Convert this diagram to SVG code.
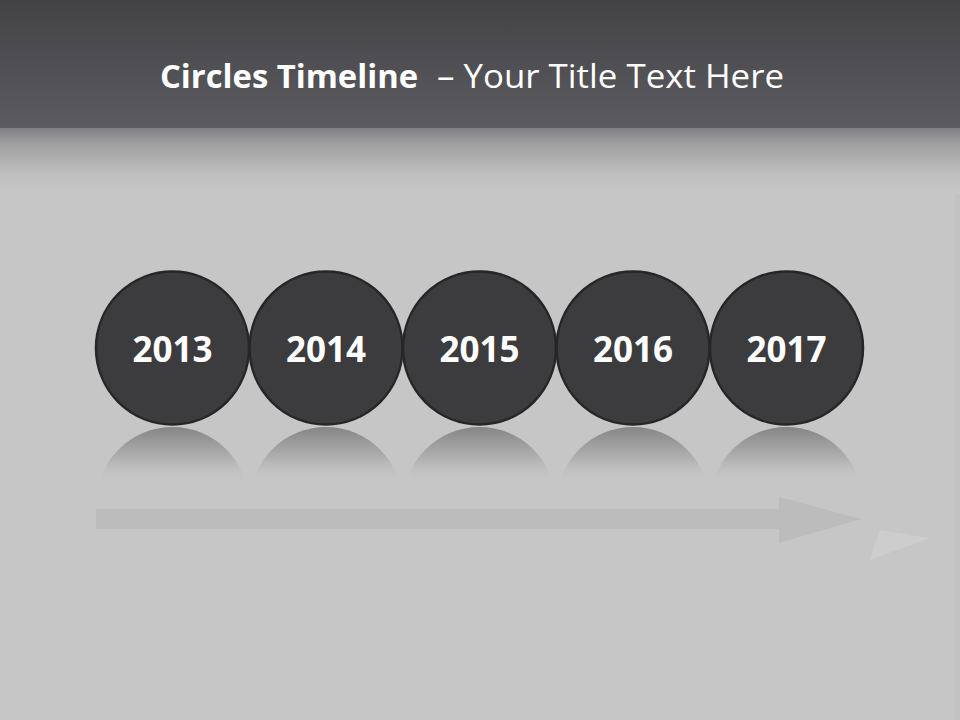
<svg xmlns="http://www.w3.org/2000/svg" width="960" height="720" viewBox="0 0 960 720">
  <defs>
    <linearGradient id="hdr" x1="0" y1="0" x2="0" y2="1">
      <stop offset="0" stop-color="#434245"/>
      <stop offset="1" stop-color="#5c5b60"/>
    </linearGradient>
    <linearGradient id="fade" x1="0" y1="0" x2="0" y2="1">
      <stop offset="0" stop-color="#807f82"/>
      <stop offset="0.25" stop-color="#a0a0a1"/>
      <stop offset="0.7" stop-color="#bfbfbf"/>
      <stop offset="1" stop-color="#c6c6c6"/>
    </linearGradient>
    <linearGradient id="refl" gradientUnits="userSpaceOnUse" x1="0" y1="427" x2="0" y2="482">
      <stop offset="0" stop-color="#858586" stop-opacity="1"/>
      <stop offset="0.55" stop-color="#aaaaaa" stop-opacity="0.85"/>
      <stop offset="1" stop-color="#c6c6c6" stop-opacity="0"/>
    </linearGradient>
    <clipPath id="reflClip">
      <rect x="0" y="426" width="960" height="58"/>
    </clipPath>
    <style>
      .node circle { fill: #3c3b3e; stroke: #262527; stroke-width: 2.5; }
      .node text { font-family: "Open Sans", "Liberation Sans", sans-serif; font-weight: 700; font-size: 35px; fill: #ffffff; text-anchor: middle; }
      .refl { fill: url(#refl); }
      .title { font-family: "Open Sans", "Liberation Sans", sans-serif; font-size: 32px; fill: #ffffff; }
    </style>
  </defs>

  <!-- background -->
  <rect x="0" y="0" width="960" height="720" fill="#c6c6c6"/>
  <polygon points="870,560 930,538 880,530" fill="#d0d0d0" opacity="0.7"/>
  <polygon points="0,160 35,152 0,190" fill="#d0d0d0" opacity="0.5"/>
  <rect x="0" y="128" width="960" height="66" fill="url(#fade)"/>
  <rect x="0" y="0" width="960" height="128" fill="url(#hdr)"/>
  <rect x="955" y="194" width="5" height="526" fill="#bdbdbd" opacity="0.5"/>

  <!-- title -->
  <text class="title" x="160" y="88"><tspan font-weight="700" textLength="258" lengthAdjust="spacingAndGlyphs">Circles Timeline</tspan><tspan x="437" textLength="347" lengthAdjust="spacingAndGlyphs">– Your Title Text Here</tspan></text>

  <!-- reflections -->
  <g id="reflections" clip-path="url(#reflClip)">
    <circle class="refl" cx="172.5" cy="503" r="76"/>
    <circle class="refl" cx="326" cy="503" r="76"/>
    <circle class="refl" cx="479.5" cy="503" r="76"/>
    <circle class="refl" cx="633" cy="503" r="76"/>
    <circle class="refl" cx="786.5" cy="503" r="76"/>
  </g>

  <!-- connectors -->
  <g id="connectors">
    <polygon points="96,509 779,509 779,497 861,519 779,543 779,529 96,529" fill="#bcbcbc"/>
  </g>

  <!-- nodes -->
  <g id="node-2013" class="node">
    <circle cx="172.5" cy="348" r="76.5"/>
    <text x="172.5" y="362">2013</text>
  </g>
  <g id="node-2014" class="node">
    <circle cx="326" cy="348" r="76.5"/>
    <text x="326" y="362">2014</text>
  </g>
  <g id="node-2015" class="node">
    <circle cx="479.5" cy="348" r="76.5"/>
    <text x="479.5" y="362">2015</text>
  </g>
  <g id="node-2016" class="node">
    <circle cx="633" cy="348" r="76.5"/>
    <text x="633" y="362">2016</text>
  </g>
  <g id="node-2017" class="node">
    <circle cx="786.5" cy="348" r="76.5"/>
    <text x="786.5" y="362">2017</text>
  </g>
</svg>
